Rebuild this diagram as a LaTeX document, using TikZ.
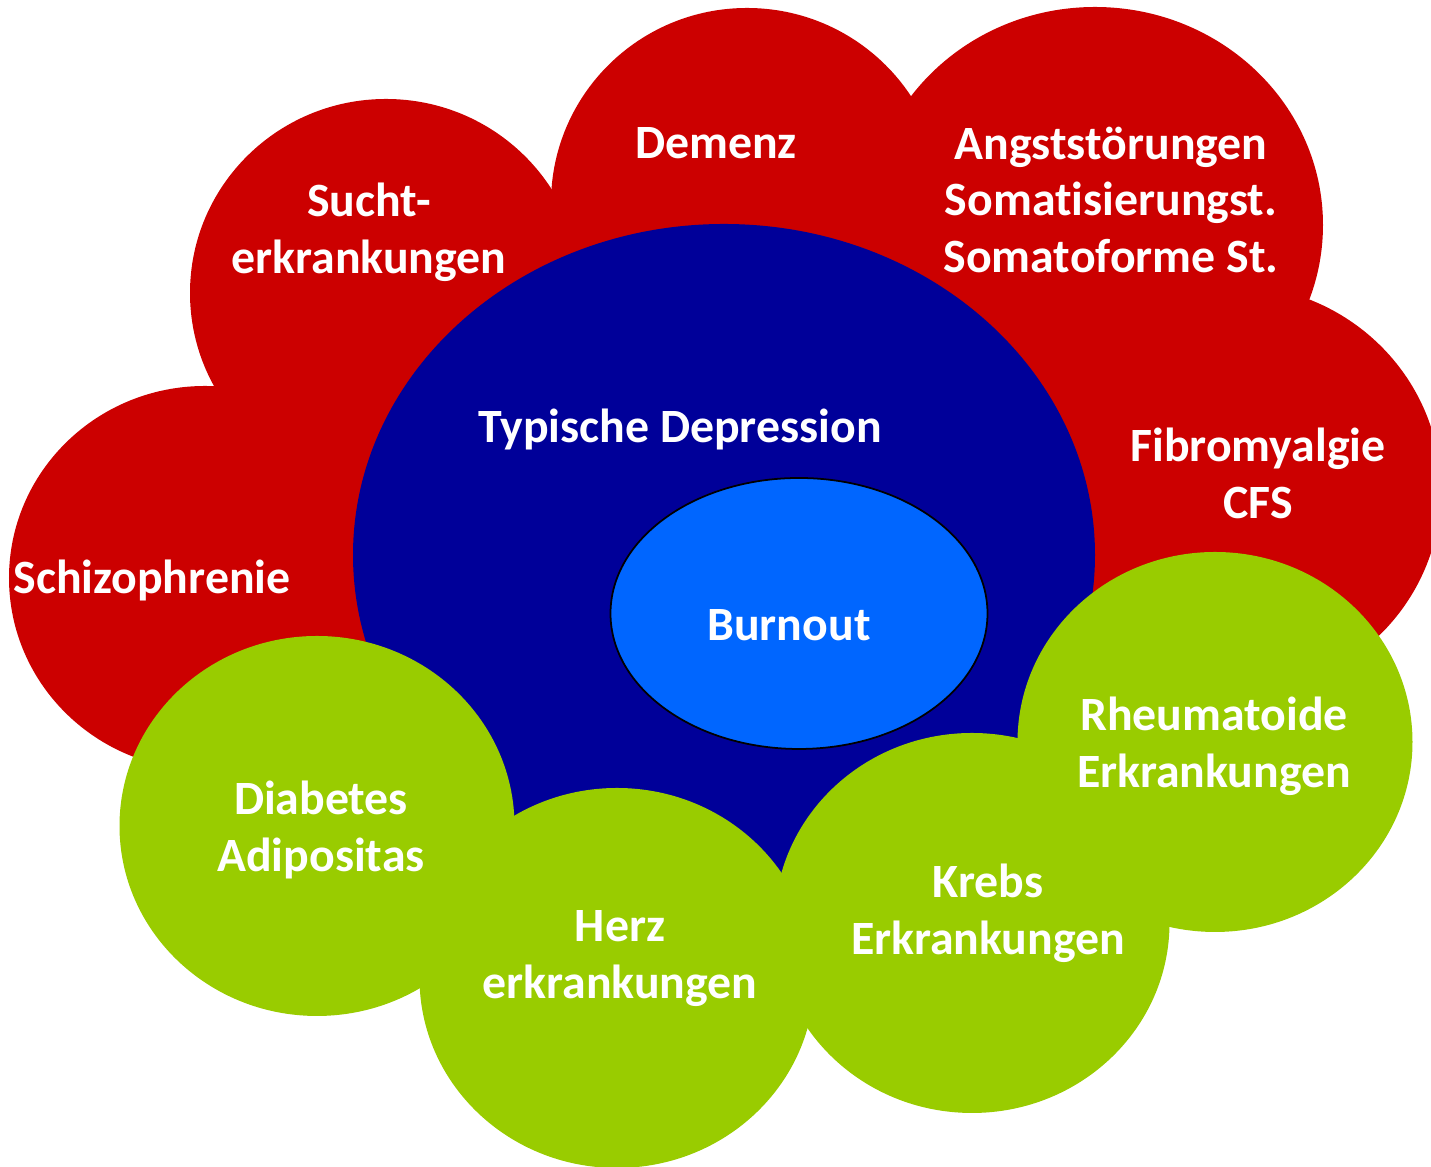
\documentclass[tikz,border=0pt]{standalone}
\usepackage{fontspec}
\setmainfont{Carlito}[Ligatures=CommonOff]
\definecolor{cloudred}{RGB}{204, 0, 0}
\definecolor{deepblue}{RGB}{0, 0, 153}
\definecolor{burnblue}{RGB}{0, 102, 255}
\definecolor{limegreen}{RGB}{153, 204, 0}
\usetikzlibrary{positioning}

\begin{document}
\begin{tikzpicture}[
    lbl/.style={text=white, font=\fontsize{13.6}{16.2}\selectfont\bfseries, align=center, inner sep=0pt}
  ]
  \clip (0, 0) rectangle (14.31, 11.67);

  % Red cloud
  \fill[cloudred] (2.05, 5.89) ellipse [x radius=1.96, y radius=1.92];
  \fill[cloudred] (3.86, 8.74) ellipse [x radius=1.96, y radius=1.94];
  \fill[cloudred] (7.47, 9.64) ellipse [x radius=1.96, y radius=1.95];
  \fill[cloudred] (10.95, 9.42) ellipse [x radius=2.28, y radius=2.18];
  \fill[cloudred] (12.32, 6.77) ellipse [x radius=2.09, y radius=2.05];

  % Depression
  \fill[deepblue] (7.24, 6.12) ellipse [x radius=3.71, y radius=3.31];

  % Green circles
  \fill[limegreen] (3.17, 3.41) ellipse [x radius=1.975, y radius=1.90];
  \fill[limegreen] (6.17, 1.89) ellipse [x radius=1.975, y radius=1.90];
  \fill[limegreen] (9.72, 2.44) ellipse [x radius=1.975, y radius=1.90];
  \fill[limegreen] (12.15, 4.25) ellipse [x radius=1.975, y radius=1.90];

  % Burnout
  \filldraw[fill=burnblue, draw=black, line width=0.5pt] (7.99, 5.535) ellipse [x radius=1.885, y radius=1.355];

  % Labels
  \node[lbl] (sucht) at (3.69, 9.35) {Sucht-\\erkrankungen};
  \node[lbl] (demenz) at (7.16, 10.24) {Demenz};
  \node[lbl] (angst) at (11.11, 9.67) {Angststörungen\\Somatisierungst.\\Somatoforme St.};
  \node[lbl] (fibro) at (12.58, 6.94) {Fibromyalgie\\CFS};
  \node[lbl] (depr) at (6.80, 7.37) {Typische Depression};
  \node[lbl] (schizo) at (1.52, 5.86) {Schizophrenie};
  \node[lbl] (burnout) at (7.89, 5.42) {Burnout};
  \node[lbl] (diab) at (3.21, 3.37) {Diabetes\\Adipositas};
  \node[lbl] (herz) at (6.20, 2.08) {Herz\\erkrankungen};
  \node[lbl] (krebs) at (9.88, 2.54) {Krebs\\Erkrankungen};
  \node[lbl] (rheuma) at (12.14, 4.21) {Rheumatoide\\Erkrankungen};
\end{tikzpicture}
\end{document}
